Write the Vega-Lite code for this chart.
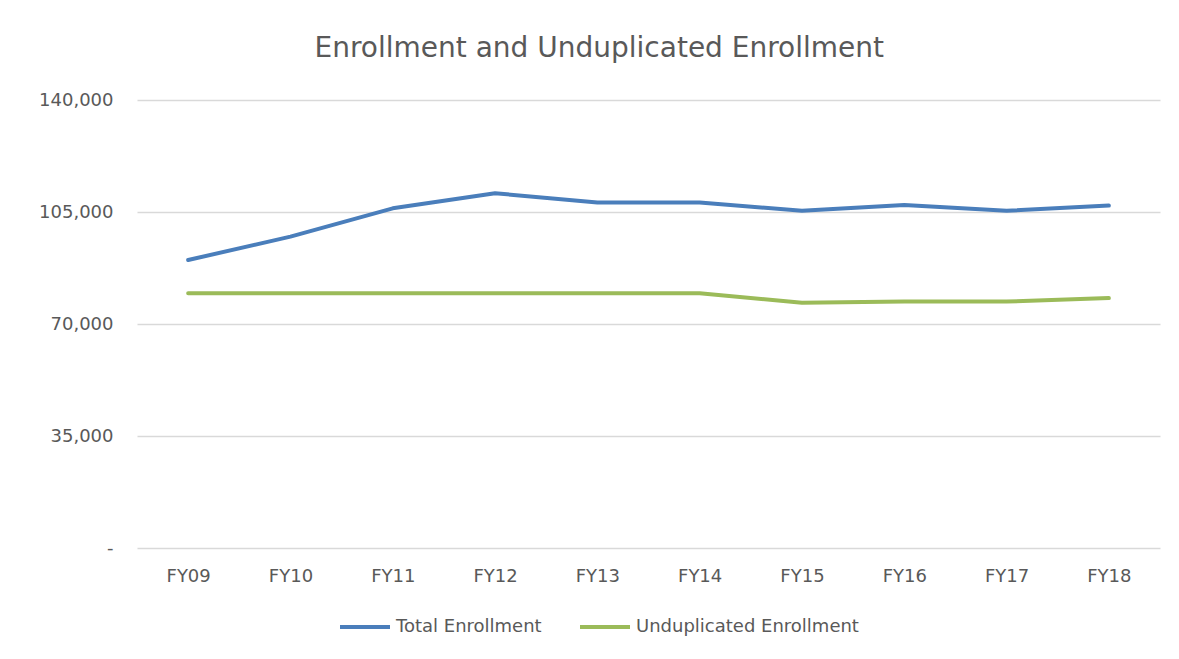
{
  "$schema": "https://vega.github.io/schema/vega-lite/v6.json",
  "autosize": {"type": "none"},
  "width": 1023,
  "height": 448,
  "padding": {"left": 137, "top": 100, "right": 19, "bottom": 111},
  "background": "white",
  "title": {
    "text": "Enrollment and Unduplicated Enrollment",
    "font": "DejaVu Sans",
    "fontSize": 28,
    "fontWeight": "normal",
    "color": "#595959",
    "anchor": "middle",
    "frame": "bounds",
    "offset": 28
  },
  "data": {
    "values": [
      {"year": "FY09", "series": "Total Enrollment", "value": 90000},
      {"year": "FY10", "series": "Total Enrollment", "value": 97300},
      {"year": "FY11", "series": "Total Enrollment", "value": 106150},
      {"year": "FY12", "series": "Total Enrollment", "value": 110850},
      {"year": "FY13", "series": "Total Enrollment", "value": 108000},
      {"year": "FY14", "series": "Total Enrollment", "value": 108000},
      {"year": "FY15", "series": "Total Enrollment", "value": 105400},
      {"year": "FY16", "series": "Total Enrollment", "value": 107200},
      {"year": "FY17", "series": "Total Enrollment", "value": 105400},
      {"year": "FY18", "series": "Total Enrollment", "value": 107000},
      {"year": "FY09", "series": "Unduplicated Enrollment", "value": 79600},
      {"year": "FY10", "series": "Unduplicated Enrollment", "value": 79600},
      {"year": "FY11", "series": "Unduplicated Enrollment", "value": 79600},
      {"year": "FY12", "series": "Unduplicated Enrollment", "value": 79600},
      {"year": "FY13", "series": "Unduplicated Enrollment", "value": 79600},
      {"year": "FY14", "series": "Unduplicated Enrollment", "value": 79600},
      {"year": "FY15", "series": "Unduplicated Enrollment", "value": 76650},
      {"year": "FY16", "series": "Unduplicated Enrollment", "value": 77000},
      {"year": "FY17", "series": "Unduplicated Enrollment", "value": 77000},
      {"year": "FY18", "series": "Unduplicated Enrollment", "value": 78100}
    ]
  },
  "mark": {"type": "line", "strokeWidth": 4, "strokeCap": "round", "strokeJoin": "round"},
  "encoding": {
    "x": {
      "field": "year",
      "type": "ordinal",
      "scale": {"type": "point", "padding": 0.5},
      "axis": {
        "title": null,
        "labelAngle": 0,
        "ticks": false,
        "domain": false,
        "grid": false,
        "labelPadding": 19,
        "labelFont": "DejaVu Sans",
        "labelFontSize": 18,
        "labelColor": "#595959"
      }
    },
    "y": {
      "field": "value",
      "type": "quantitative",
      "scale": {"domain": [0, 140000], "nice": false, "zero": true},
      "axis": {
        "title": null,
        "values": [0, 35000, 70000, 105000, 140000],
        "labelExpr": "datum.value == 0 ? '-' : format(datum.value, ',')",
        "ticks": false,
        "domain": false,
        "grid": true,
        "gridColor": "#d9d9d9",
        "gridWidth": 1.5,
        "labelPadding": 24,
        "labelFont": "DejaVu Sans",
        "labelFontSize": 18,
        "labelColor": "#595959",
        "encode": {
          "labels": {
            "update": {
              "dx": {"signal": "datum.value == 0 ? -13 : 0"}
            }
          }
        }
      }
    },
    "color": {
      "field": "series",
      "type": "nominal",
      "scale": {
        "domain": ["Total Enrollment", "Unduplicated Enrollment"],
        "range": ["#4a7ebb", "#9bbb59"]
      },
      "legend": {
        "title": null,
        "orient": "none",
        "direction": "horizontal",
        "legendX": 201,
        "legendY": 500,
        "symbolType": "stroke",
        "symbolStrokeWidth": 4,
        "symbolSize": 2500,
        "labelFont": "DejaVu Sans",
        "labelFontSize": 18,
        "labelColor": "#595959",
        "labelOffset": 4,
        "labelLimit": 400,
        "columnPadding": 30
      }
    }
  },
  "config": {
    "view": {"stroke": null}
  }
}
